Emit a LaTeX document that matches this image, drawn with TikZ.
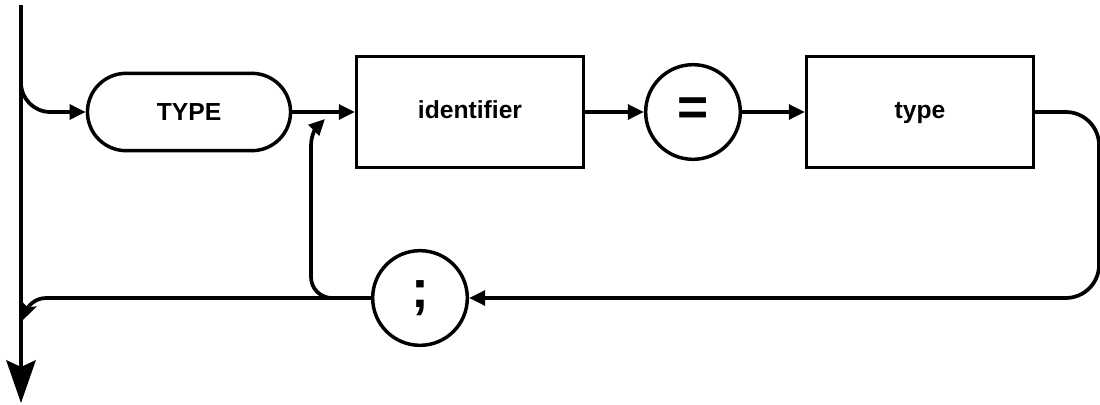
\documentclass[tikz,border=0pt]{standalone}
\usepackage{fontspec}
\newfontfamily\diagfont{Liberation Sans}
\usetikzlibrary{arrows.meta}
\usetikzlibrary{shapes.misc}

\tikzset{
  boxnode/.style={draw, line width=2.6pt, rectangle, minimum width=170pt, minimum height=83pt, text height=13pt, text depth=4pt, font=\diagfont\bfseries\fontsize{18.5}{20}\selectfont},
  keynode/.style={draw, line width=2.6pt, rounded rectangle, minimum width=159pt, minimum height=58pt, font=\diagfont\bfseries\fontsize{18.5}{20}\selectfont},
  symnode/.style={draw, line width=2.6pt, circle, minimum size=71pt, inner sep=0pt, font=\diagfont\bfseries\fontsize{40}{42}\selectfont},
  flow/.style={line width=2.8pt, -{Triangle[length=12pt,width=11pt]}},
}

\begin{document}
\begin{tikzpicture}[x=0.75pt,y=0.75pt,yscale=-1,xscale=1]
\useasboundingbox (0,0) rectangle (1100,404);

%Shape: nodes
\node [keynode] (kwtype) at (189,112) {TYPE};
\node [boxnode] (ident) at (470,112) {identifier};
\node [symnode] (equal) at (693,112) {=};
\node [boxnode] (tname) at (920,112) {type};
\node [symnode] (semi) at (420,298) {;};

%Coordinates
\coordinate (top) at (21,5);
\coordinate (bottom) at (21,403);
\coordinate (split) at (21,70);
\coordinate (merge) at (23,320);
\coordinate (fork) at (340,298);
\coordinate (back) at (325,119);

%Straight Lines: main line
\draw [line width=2.8pt, -{Stealth[length=32pt,width=22pt,inset=5pt]}] (top) -- (bottom) ;
%Straight Lines: into TYPE
\draw [flow, rounded corners=22] (split) |- (kwtype.west) ;
%Straight Lines: along the top
\draw [flow] (kwtype.east) -- (ident.west) ;
\draw [flow] (ident.east) -- (equal.west) ;
\draw [flow] (equal.east) -- (tname.west) ;
%Curve: round to the semicolon
\draw [flow, rounded corners=25] (tname.east) -- ++(64,0) |- (semi.east) ;
%Curve: out to the main line
\draw [line width=2.8pt, -{Stealth[length=13pt,width=12pt,inset=3pt]}] (semi.west) -- (46,298) to [out=180,in=-70] (merge) ;
%Curve: back to identifier
\draw [flow] (fork) -- (332,298) to [out=180,in=90] (311,277) -- (311,146) to [out=-90,in=135] (back) ;

\end{tikzpicture}
\end{document}
